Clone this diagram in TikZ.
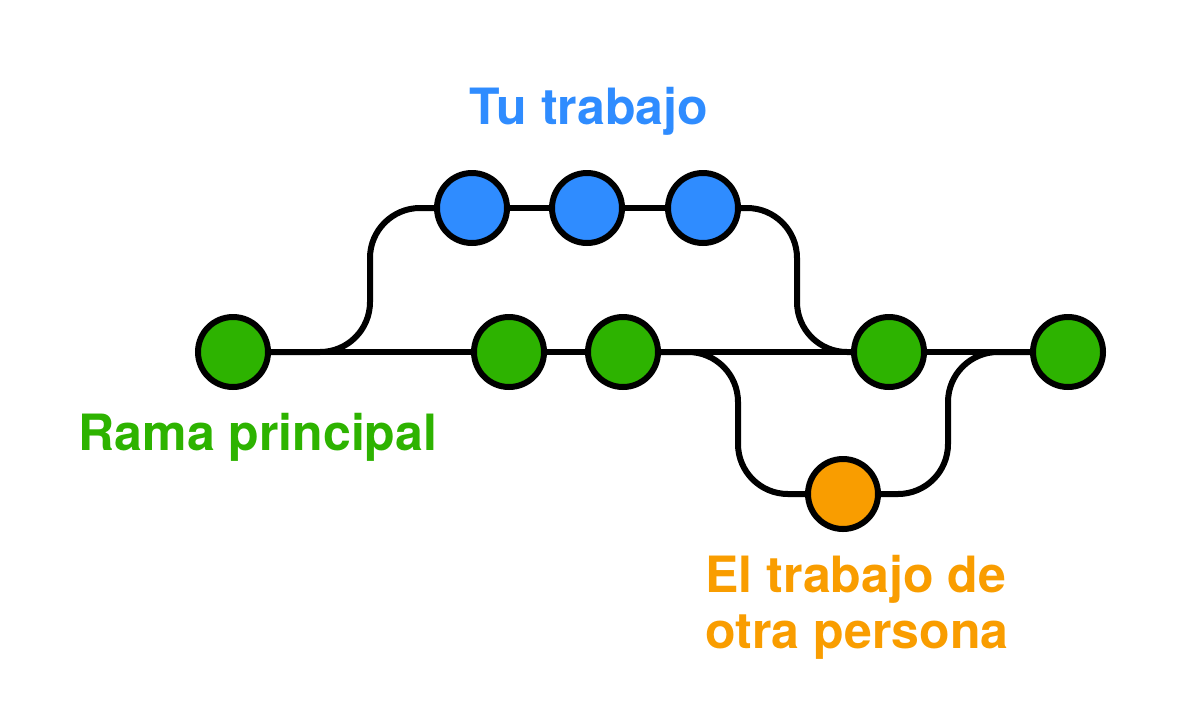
\documentclass[tikz,border=0pt]{standalone}
\usepackage{fontspec}
\setmainfont{TeX Gyre Heros}
\usepackage{tikz}
\usetikzlibrary{backgrounds}
\definecolor{gitblue}{HTML}{2F8CFF}
\definecolor{gitgreen}{HTML}{2DB300}
\definecolor{gitorange}{HTML}{F99D00}

\tikzset{
  commit/.style={circle,draw=black,line width=3pt,minimum size=35pt,inner sep=0pt},
  branch/.style={line width=3pt,rounded corners=25pt},
  label/.style={font=\fontsize{25}{28}\selectfont\bfseries}
}

\begin{document}
\begin{tikzpicture}[x=0.5pt,y=-0.5pt]
\useasboundingbox (0,0) rectangle (1177,702);
%%Main branch
\node[commit,fill=gitgreen] (m1) at (233,352) {};
\node[commit,fill=gitgreen] (m2) at (509,352) {};
\node[commit,fill=gitgreen] (m3) at (623,352) {};
\node[commit,fill=gitgreen] (m4) at (889,352) {};
\node[commit,fill=gitgreen] (m5) at (1068,352) {};
%%Your work
\node[commit,fill=gitblue] (b1) at (472,208) {};
\node[commit,fill=gitblue] (b2) at (587,208) {};
\node[commit,fill=gitblue] (b3) at (703,208) {};
%%Other work
\node[commit,fill=gitorange] (o1) at (843,494) {};

%%Lines
\begin{scope}[on background layer]
\draw[branch] (m1.center) -- (m5.center);
\draw[branch] (m1.center) -| (370,208) -- (b1.center);
\draw[branch] (b1.center) -- (b3.center);
\draw[branch] (b3.center) -| (797,352) -- (m4.center);
\draw[branch] (m3.center) -| (738,494) -- (o1.center);
\draw[branch] (o1.center) -| (948,352) -- (m5.center);
\end{scope}

%%Label
\node[label,text=gitblue] (tu) at (589,111) {Tu trabajo};
\node[label,text=gitgreen] (rama) at (258,437) {Rama principal};
\node[label,text=gitorange,align=left] (otra) at (857,607) {El trabajo de\\otra persona};
\end{tikzpicture}
\end{document}
